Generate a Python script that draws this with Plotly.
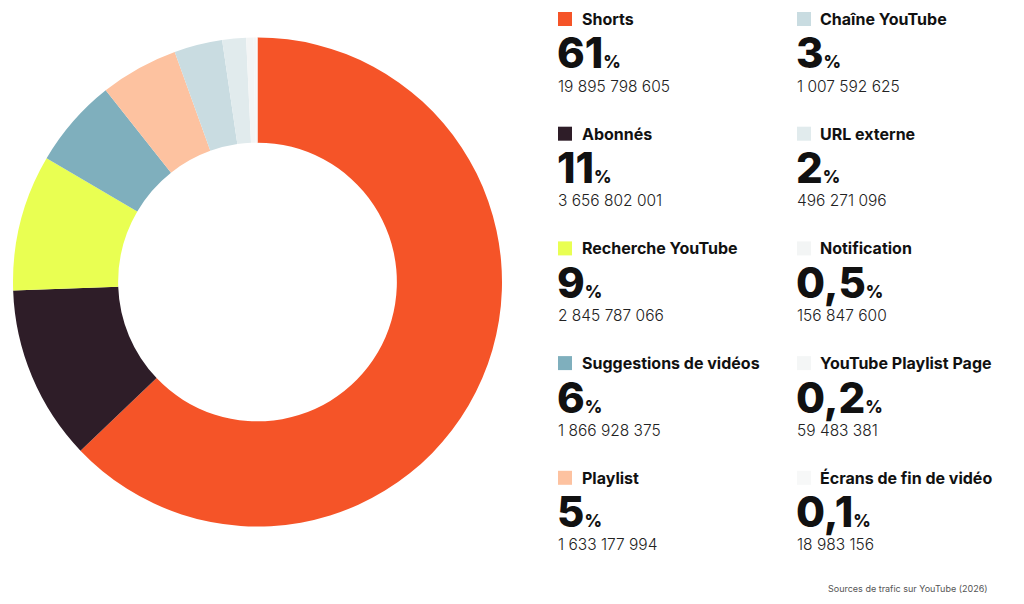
import plotly.graph_objects as go

# ---- data ----
categories = ["Shorts", "Abonnés", "Recherche YouTube", "Suggestions de vidéos", "Playlist",
              "Chaîne YouTube", "URL externe", "Notification", "YouTube Playlist Page",
              "Écrans de fin de vidéo"]
views = [19895798605, 3656802001, 2845787066, 1866928375, 1633177994,
         1007592625, 496271096, 156847600, 59483381, 18983156]
pct_labels = ["61", "11", "9", "6", "5", "3", "2", "0,5", "0,2", "0,1"]
source_note = "Sources de trafic sur YouTube (2026)"

colors = ["#F55428", "#2E1D28", "#E9FF52", "#7FAFBD", "#FDC2A0",
          "#C9DCE1", "#E1EBED", "#F3F5F5", "#F4F6F6", "#F7F8F8"]

W, H = 1024, 604
OFF = 8  # page body margin
def px(x): return (x - OFF) / W
def py(y): return 1 - (y - OFF) / H

fig = go.Figure()
fig.add_trace(go.Pie(
    labels=categories, values=views, hole=0.57, sort=False, direction="clockwise",
    rotation=0, marker=dict(colors=colors, line=dict(width=0)),
    textinfo="none", hoverinfo="label+value+percent", showlegend=False,
    domain=dict(x=[px(13), px(502)], y=[py(527), py(37)]),
))

def fmt(n):
    return f"{n:,}".replace(",", " ")

shapes = []
annotations = []
for i, (cat, v, p, c) in enumerate(zip(categories, views, pct_labels, colors)):
    col = i // 5
    row = i % 5
    sx = 558 if col == 0 else 797
    lx = 580 if col == 0 else 818
    y0 = 19 + row * 114.7
    shapes.append(dict(type="rect", xref="paper", yref="paper",
                       x0=px(sx), x1=px(sx + 14), y0=py(y0 - 7), y1=py(y0 + 7),
                       fillcolor=c, line=dict(width=0)))
    annotations.append(dict(xref="paper", yref="paper", x=px(lx), y=py(y0),
                            xanchor="left", yanchor="middle", showarrow=False,
                            text=cat, font=dict(family="Inter", size=16, color="#111", weight=700)))
    annotations.append(dict(xref="paper", yref="paper", x=px(sx - 3), y=py(y0 + 34),
                            xanchor="left", yanchor="middle", showarrow=False,
                            text=f"{p}<span style='font-size:17px'>%</span>",
                            font=dict(family="Inter", size=42, color="#111", weight=800)))
    annotations.append(dict(xref="paper", yref="paper", x=px(sx - 2), y=py(y0 + 67),
                            xanchor="left", yanchor="middle", showarrow=False,
                            text=fmt(v), font=dict(family="Inter", size=15.5, color="#222", weight=300)))

annotations.append(dict(xref="paper", yref="paper", x=px(908), y=py(588),
                        xanchor="center", yanchor="middle", showarrow=False,
                        text=source_note, font=dict(family="Inter", size=9, color="#555")))

fig.update_layout(width=W, height=H, margin=dict(l=0, r=0, t=0, b=0),
                  paper_bgcolor="white", plot_bgcolor="white",
                  shapes=shapes, annotations=annotations)
fig.write_html("out.html")
